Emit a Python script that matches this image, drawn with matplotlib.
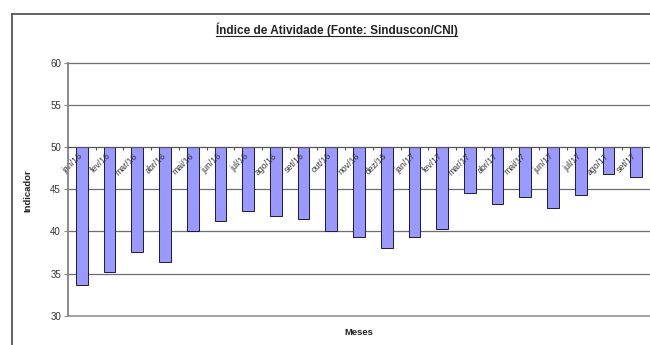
import numpy as np
import matplotlib
matplotlib.use("Agg")
import matplotlib.pyplot as plt
from matplotlib.lines import Line2D
from matplotlib.transforms import ScaledTranslation

plt.rcParams['font.family'] = ['Liberation Sans', 'DejaVu Sans']

meses = ["jan/16", "fev/16", "mar/16", "abr/16", "mai/16", "jun/16", "jul/16",
         "ago/16", "set/16", "out/16", "nov/16", "dez/16", "jan/17", "fev/17",
         "mar/17", "abr/17", "mai/17", "jun/17", "jul/17", "ago/17", "set/17"]
indicador = [33.6, 35.2, 37.5, 36.4, 40.1, 41.2, 42.4, 41.8, 41.5, 40.1, 39.3,
             38.0, 39.3, 40.3, 44.5, 43.3, 44.1, 42.8, 44.3, 46.8, 46.4]
base = 50
yticks = [30, 35, 40, 45, 50, 55, 60]

W, H = 650, 345
fig = plt.figure(figsize=(W / 100, H / 100), dpi=100)
fig.patch.set_facecolor("white")

ax = fig.add_axes([68 / W, (H - 315.7) / H, (W - 68) / W, (315.7 - 62.7) / H])
x = np.arange(len(meses))
vals = np.array(indicador)

# horizontal gridlines behind the bars
for y in yticks:
    if y != base:
        c = "#8a8a8a" if y == 30 else "#6e6e6e"
        ax.axhline(y, color=c, lw=1.1 if y == 30 else 0.9, zorder=0.5, clip_on=False)

ax.bar(x, vals - base, bottom=base, width=0.42, color="#9999ff",
       edgecolor="#1a1a40", linewidth=0.7, zorder=1)

ax.set_xlim(-0.5, len(meses) - 0.5)
ax.set_ylim(30, 60)
ax.set_yticks(yticks)
ax.set_yticklabels([str(v) for v in yticks], fontsize=7, color="#333333")

# category axis crosses at 50
ax.spines['bottom'].set_position(('data', base))
ax.spines['bottom'].set_color("#555555")
ax.spines['bottom'].set_linewidth(0.9)
ax.spines['top'].set_visible(False)
ax.spines['right'].set_visible(False)
ax.spines['left'].set_color("#8a8a8a")
ax.spines['left'].set_linewidth(1.4)

ax.set_xticks(x)
ax.set_xticklabels(meses, fontsize=6.3, color="#333333", rotation=45,
                   ha="right", va="top", rotation_mode="anchor")
ax.set_xticks(x + 0.5, minor=True)
ax.tick_params(axis='x', which='major', length=0, pad=3)
ax.tick_params(axis='x', which='minor', length=2, direction='out',
               color="#555555", width=0.8)
ax.tick_params(axis='y', length=3, direction='out', color="#8a8a8a",
               width=0.8, pad=2)
shift = ScaledTranslation(-4 / 100, 0, fig.dpi_scale_trans)
for lbl in ax.get_xticklabels():
    lbl.set_transform(lbl.get_transform() + shift)

fig.text(28 / W, 1 - 191 / H, "Indicador", rotation=90, fontsize=6.8,
         fontweight="bold", color="#222222", ha="center", va="center")
fig.text(359 / W, 1 - 332.5 / H, "Meses", fontsize=6.8, fontweight="bold",
         color="#222222", ha="center", va="center")

title = fig.text(336.5 / W, 1 - 29.5 / H,
                 "Índice de Atividade (Fonte: Sinduscon/CNI)",
                 fontsize=8.5, fontweight="bold", color="#222222",
                 ha="center", va="center")

# underline the title
fig.canvas.draw()
bb = title.get_window_extent(fig.canvas.get_renderer())
uy = (bb.y0 + 0.5) / H
fig.add_artist(Line2D([bb.x0 / W, bb.x1 / W], [uy, uy], transform=fig.transFigure,
                      color="#222222", lw=0.8))

# outer chart frame
fig.add_artist(Line2D([12 / W, 1.0], [1 - 14 / H, 1 - 14 / H],
                      transform=fig.transFigure, color="#555555", lw=1.3))
fig.add_artist(Line2D([12 / W, 12 / W], [0.0, 1 - 14 / H],
                      transform=fig.transFigure, color="#555555", lw=1.3))

fig.savefig("out.png", dpi=100, facecolor="white")
